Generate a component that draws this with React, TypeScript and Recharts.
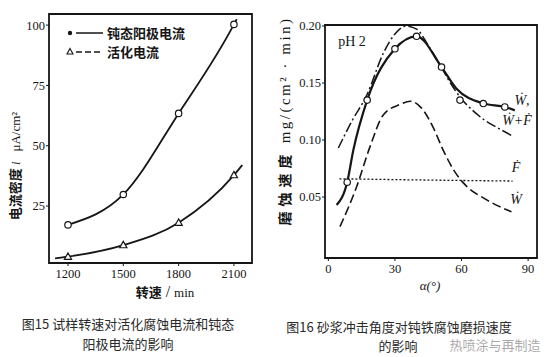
import React from 'react';
import { ComposedChart, Line, Scatter, XAxis, YAxis, ReferenceArea } from 'recharts';

// ---------- Fig.15 : rotation speed vs current density ----------
const speedTicks = [1200, 1500, 1800, 2100];
const currentTicks = [25, 50, 75, 100];
const passiveMeasured = [
  { x: 1200, y: 17.2 },
  { x: 1500, y: 29.8 },
  { x: 1800, y: 63.4 },
  { x: 2100, y: 100.3 },
];
const passiveCurveEnds = [{ x: 2115, y: 102.5 }];
const activeMeasured = [
  { x: 1200, y: 4.0 },
  { x: 1500, y: 8.8 },
  { x: 1800, y: 18.1 },
  { x: 2100, y: 37.8 },
];
const activeCurveStart = [{ x: 1130, y: 3.3 }];
const activeCurveEnd = [{ x: 2145, y: 42 }];

// ---------- Fig.16 : impact angle vs wear-corrosion rate ----------
const angleTicks = [0, 30, 60, 90];
const rateTicks = [0.05, 0.1, 0.15, 0.2];
const totalCurve = [
  { x: 3.75, y: 0.043 },
  { x: 8.5, y: 0.063 },
  { x: 11.25, y: 0.091 },
  { x: 17.5, y: 0.135 },
  { x: 30, y: 0.18 },
  { x: 39.75, y: 0.191 },
  { x: 51, y: 0.164 },
  { x: 57.75, y: 0.145 },
  { x: 70, y: 0.132 },
  { x: 79.5, y: 0.129 },
  { x: 84, y: 0.126 },
];
const totalMeasured = [
  { x: 8.5, y: 0.063 },
  { x: 17.5, y: 0.135 },
  { x: 30, y: 0.18 },
  { x: 39.75, y: 0.191 },
  { x: 51, y: 0.164 },
  { x: 59.3, y: 0.135 },
  { x: 69.8, y: 0.132 },
  { x: 79.5, y: 0.129 },
];
const sumCurve = [
  { x: 4.5, y: 0.093 },
  { x: 11, y: 0.118 },
  { x: 17, y: 0.138 },
  { x: 25, y: 0.177 },
  { x: 30, y: 0.193 },
  { x: 35, y: 0.2 },
  { x: 40, y: 0.197 },
  { x: 45, y: 0.183 },
  { x: 50, y: 0.167 },
  { x: 55, y: 0.15 },
  { x: 60, y: 0.136 },
  { x: 65, y: 0.126 },
  { x: 70, y: 0.118 },
  { x: 76, y: 0.111 },
  { x: 82.5, y: 0.104 },
];
const wearCurve = [
  { x: 5.25, y: 0.024 },
  { x: 12.75, y: 0.059 },
  { x: 18.75, y: 0.094 },
  { x: 24.75, y: 0.122 },
  { x: 32, y: 0.131 },
  { x: 37, y: 0.134 },
  { x: 42, y: 0.128 },
  { x: 47, y: 0.112 },
  { x: 52, y: 0.09 },
  { x: 57, y: 0.072 },
  { x: 62, y: 0.06 },
  { x: 70, y: 0.049 },
  { x: 82.5, y: 0.037 },
];
const corrosionCurve = [
  { x: 5, y: 0.066 },
  { x: 40, y: 0.065 },
  { x: 83, y: 0.064 },
];

const INK = '#161616';
const SERIF = '"Liberation Serif", "DejaVu Serif", serif';
const CJK = '"Noto Sans CJK SC", sans-serif';

const OpenCircle = (p: any) => (
  <circle cx={p.cx} cy={p.cy} r={3.2} fill="#fff" stroke={INK} strokeWidth={1.2} />
);
const OpenTriangle = (p: any) => (
  <path
    d={`M${p.cx},${p.cy - 3.8} L${p.cx + 3.6},${p.cy + 2.6} L${p.cx - 3.6},${p.cy + 2.6} Z`}
    fill="#fff"
    stroke={INK}
    strokeWidth={1.2}
  />
);

const T = ({ x, y, children, style }: any) => (
  <div
    style={{
      position: 'absolute',
      left: x,
      top: y,
      transform: 'translate(-50%, -50%)',
      whiteSpace: 'nowrap',
      lineHeight: 1,
      color: INK,
      fontFamily: SERIF,
      fontSize: 13,
      ...style,
    }}
  >
    {children}
  </div>
);

const tickStyle = { fill: INK, fontSize: 12.5, fontFamily: SERIF };

export default function App() {
  const passiveCurve = [...passiveMeasured, ...passiveCurveEnds];
  const activeCurve = [...activeCurveStart, ...activeMeasured, ...activeCurveEnd];
  return (
    <div
      style={{
        position: 'absolute',
        left: 0,
        top: 0,
        width: 555,
        height: 357,
        background: '#fff',
        overflow: 'hidden',
      }}
    >
      {/* Fig 15 */}
      <div style={{ position: 'absolute', left: 0, top: 0 }}>
        <ComposedChart width={260} height={300} margin={{ top: 14, right: 8, left: 0, bottom: 0 }}>
          <XAxis
            dataKey="x"
            type="number"
            domain={[1097, 2198]}
            ticks={speedTicks}
            allowDataOverflow
            height={37}
            axisLine={false}
            tickSize={3}
            tickMargin={3}
            tickLine={{ stroke: INK }}
            tick={tickStyle}
          />
          <YAxis
            type="number"
            domain={[1.4, 104.6]}
            ticks={currentTicks}
            allowDataOverflow
            width={49}
            axisLine={false}
            tickSize={3}
            tickMargin={1}
            tickLine={{ stroke: INK }}
            tick={tickStyle}
          />
          <ReferenceArea x1={1097} x2={2198} y1={1.4} y2={104.6} fill="none" stroke={INK} strokeWidth={1.8} />
          <Line data={passiveCurve} dataKey="y" type="monotone" stroke={INK} strokeWidth={1.8} dot={false} isAnimationActive={false} />
          <Line data={activeCurve} dataKey="y" type="monotone" stroke={INK} strokeWidth={1.8} dot={false} isAnimationActive={false} />
          <Scatter data={passiveMeasured} dataKey="y" shape={OpenCircle} isAnimationActive={false} />
          <Scatter data={activeMeasured} dataKey="y" shape={OpenTriangle} isAnimationActive={false} />
        </ComposedChart>
      </div>

      {/* Fig 15 legend */}
      <svg style={{ position: 'absolute', left: 0, top: 0 }} width={110} height={70}>
        <circle cx={70} cy={33} r={2.2} fill={INK} />
        <line x1={76} x2={103} y1={33} y2={33} stroke={INK} strokeWidth={1.5} />
        <path d="M70,48.5 L73,54 L67,54 Z" fill="none" stroke={INK} strokeWidth={1.1} />
        <line x1={76} x2={103} y1={52} y2={52} stroke={INK} strokeWidth={1.5} strokeDasharray="6 3" />
      </svg>
      <div style={{ position: 'absolute', left: 107, top: 25, fontFamily: CJK, fontWeight: 700, fontSize: 13, color: INK, lineHeight: '16px' }}>钝态阳极电流</div>
      <div style={{ position: 'absolute', left: 107, top: 44, fontFamily: CJK, fontWeight: 700, fontSize: 13, color: INK, lineHeight: '16px' }}>活化电流</div>

      {/* Fig 15 axis titles */}
      <T x={15} y={166} style={{ transform: 'translate(-50%, -50%) rotate(-90deg)' }}>
        <span style={{ fontFamily: CJK, fontWeight: 700 }}>电流密度</span>
        <i> i </i>
        <span>&nbsp;&nbsp;μA/cm²</span>
      </T>
      <T x={165} y={292}>
        <span style={{ fontFamily: CJK, fontWeight: 700 }}>转速</span>
        <span style={{ fontSize: 16 }}> / </span>
        <span>min</span>
      </T>

      {/* Fig 16 */}
      <div style={{ position: 'absolute', left: 270, top: 0 }}>
        <ComposedChart width={285} height={300} margin={{ top: 25, right: 18, left: 0, bottom: 0 }}>
          <XAxis
            dataKey="x"
            type="number"
            domain={[-1.5, 94]}
            ticks={angleTicks}
            allowDataOverflow
            height={42}
            axisLine={false}
            tickSize={3}
            tickMargin={3}
            tickLine={{ stroke: INK }}
            tick={tickStyle}
          />
          <YAxis
            type="number"
            domain={[-0.0035, 0.2009]}
            ticks={rateTicks}
            tickFormatter={(v: number) => v.toFixed(2)}
            allowDataOverflow
            width={55}
            axisLine={false}
            tickSize={3}
            tickMargin={1}
            tickLine={{ stroke: INK }}
            tick={tickStyle}
          />
          <ReferenceArea x1={-1.5} x2={94} y1={-0.0035} y2={0.2009} fill="none" stroke={INK} strokeWidth={1.8} />
          <Line data={corrosionCurve} dataKey="y" type="monotone" stroke={INK} strokeWidth={1.3} strokeDasharray="2 2" dot={false} isAnimationActive={false} />
          <Line data={wearCurve} dataKey="y" type="monotone" stroke={INK} strokeWidth={1.6} strokeDasharray="9 4" dot={false} isAnimationActive={false} />
          <Line data={sumCurve} dataKey="y" type="monotone" stroke={INK} strokeWidth={1.5} strokeDasharray="10 3 2 3" dot={false} isAnimationActive={false} />
          <Line data={totalCurve} dataKey="y" type="monotone" stroke={INK} strokeWidth={2.2} dot={false} isAnimationActive={false} />
          <Scatter data={totalMeasured} dataKey="y" shape={OpenCircle} isAnimationActive={false} />
        </ComposedChart>
      </div>

      {/* Fig 16 annotations */}
      <T x={352} y={42} style={{ fontSize: 14 }}>pH 2</T>
      <T x={522} y={101} style={{ fontStyle: 'italic', fontSize: 14 }}>Ẇ,</T>
      <T x={517} y={121} style={{ fontStyle: 'italic', fontSize: 14 }}>Ẇ+Ḟ</T>
      <T x={516} y={168} style={{ fontStyle: 'italic', fontSize: 14 }}>Ḟ</T>
      <T x={516} y={200} style={{ fontStyle: 'italic', fontSize: 14 }}>Ẇ</T>
      <T x={285} y={121} style={{ transform: 'translate(-50%, -50%) rotate(-90deg)' }}>
        <span style={{ fontFamily: CJK, fontWeight: 700, fontSize: 14, letterSpacing: 5 }}>磨蚀速度</span>
        <span style={{ fontSize: 15, letterSpacing: 2.5 }}> mg/(cm² · min)</span>
      </T>
      <T x={430} y={285} style={{ fontStyle: 'italic', fontSize: 13 }}>α(°)</T>

      {/* Captions */}
      <T x={128} y={323} style={{ fontFamily: CJK, fontSize: 13, color: '#2a2a2a' }}>图15 试样转速对活化腐蚀电流和钝态</T>
      <T x={128} y={343} style={{ fontFamily: CJK, fontSize: 13, color: '#2a2a2a' }}>阳极电流的影响</T>
      <T x={399} y={326} style={{ fontFamily: CJK, fontSize: 13, color: '#2a2a2a' }}>图16 砂浆冲击角度对钝铁腐蚀磨损速度</T>
      <T x={398} y={345} style={{ fontFamily: CJK, fontSize: 13, color: '#2a2a2a' }}>的影响</T>
      <T x={495} y={344} style={{ fontFamily: CJK, fontSize: 13, color: 'rgba(140,140,140,0.75)' }}>热喷涂与再制造</T>
    </div>
  );
}
